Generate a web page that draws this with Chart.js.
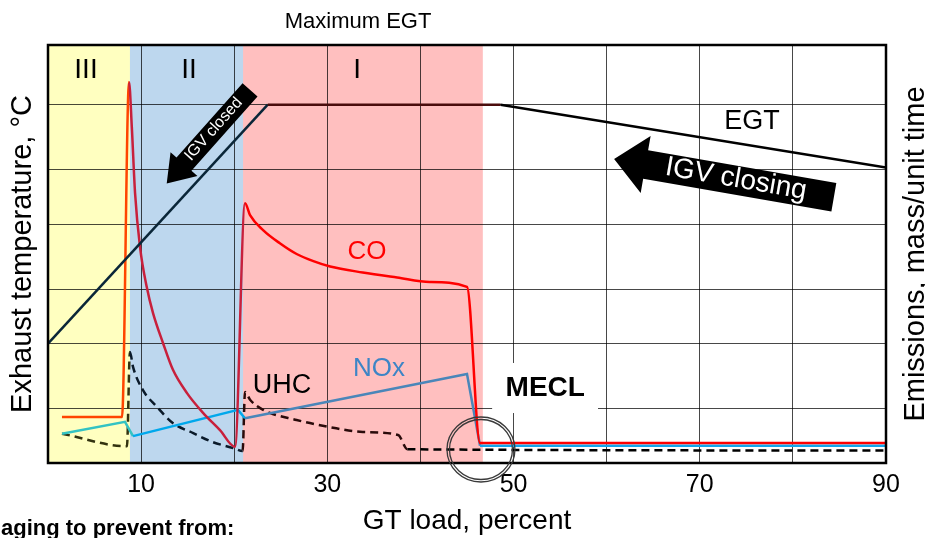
<!DOCTYPE html>
<html>
<head>
<meta charset="utf-8">
<script src="https://cdn.jsdelivr.net/npm/chart.js@4"></script>
<style>
  html, body { margin: 0; padding: 0; background: #fff; }
  #wrap { width: 925px; height: 538px; }
</style>
</head>
<body>
<div id="wrap"><canvas id="myChart"></canvas></div>
<script>
const FONT = '"Liberation Sans", Arial, sans-serif'

// axis ticks / grid
const loadTicks = [10, 30, 50, 70, 90]
const tempGrid = [0, 0.92, 2, 2.9, 4, 4.92, 6, 7]

// operating zones (GT load, percent)
const zoneNames = ['III', 'II', 'I']
const zoneFrom = [0, 8.8, 20.95]
const zoneTo = [8.8, 20.95, 46.7]

// exhaust gas temperature
const egtLoad = [0, 23.6, 48.6, 90]
const egtTemp = [2.0, 6.0, 6.0, 4.95]

// CO
const coLoad = [1.5, 7.95, 8.7, 9.0, 9.35, 9.88, 10.6, 11.28, 12.35, 13.42, 14.93, 16.65, 18.47, 20.08,
                21.16, 21.7, 23.1, 24.9, 26.7, 28.5, 30.3, 33.8, 37.5, 41.0, 45.0, 46.4, 90]
const coValue = [0.77, 0.77, 6.38, 5.63, 4.52, 3.62, 2.95, 2.51, 2.01, 1.56, 1.17, 0.84, 0.55, 0.27,
                 4.35, 4.15, 3.90, 3.68, 3.50, 3.38, 3.29, 3.19, 3.105, 3.03, 2.95, 0.335, 0.335]

// NOx
const noxLoad = [1.5, 8.27, 9.13, 20.4, 21.16, 45.0, 46.4, 90]
const noxValue = [0.49, 0.69, 0.45, 0.89, 0.75, 1.49, 0.29, 0.29]

// UHC
const uhcLoad = [1.5, 8.48, 8.8, 9.13, 10.2, 11.7, 13.4, 15.6, 17.7, 19.9, 20.9,
                 21.16, 21.7, 23.1, 26.7, 30.3, 33.8, 37.6, 38.6, 90]
const uhcValue = [0.49, 0.28, 1.86, 1.61, 1.22, 0.94, 0.67, 0.50, 0.35, 0.25, 0.20,
                  1.19, 1.06, 0.89, 0.72, 0.60, 0.52, 0.47, 0.23, 0.21]

const pts = (xs, ys) => xs.map((x, i) => ({x, y: ys[i]}))

function zoneOf(x) {
    for (let i = 0; i < zoneFrom.length; i++) {
        if (x >= zoneFrom[i] && x < zoneTo[i]) return i
    }
    return 3
}
// colours per zone: III, II, I, outside
const segColor = cols => ctx => cols[zoneOf((ctx.p0.parsed.x + ctx.p1.parsed.x) / 2)]

function arrow(ctx, x1, y1, x2, y2, bodyHalf, headHalf, headLen, text, size) {
    const ang = Math.atan2(y2 - y1, x2 - x1)
    const len = Math.hypot(x2 - x1, y2 - y1)
    ctx.save()
    ctx.translate(x1, y1)
    ctx.rotate(ang)
    ctx.fillStyle = '#000'
    ctx.beginPath()
    ctx.moveTo(0, -bodyHalf)
    ctx.lineTo(len - headLen, -bodyHalf)
    ctx.lineTo(len - headLen, -headHalf)
    ctx.lineTo(len, 0)
    ctx.lineTo(len - headLen, headHalf)
    ctx.lineTo(len - headLen, bodyHalf)
    ctx.lineTo(0, bodyHalf)
    ctx.closePath()
    ctx.fill()
    ctx.translate((len - headLen) / 2 + 4, 1)
    if (Math.abs(ang) > Math.PI / 2) ctx.rotate(Math.PI)
    ctx.fillStyle = '#fff'
    ctx.font = size + 'px ' + FONT
    ctx.textAlign = 'center'
    ctx.textBaseline = 'middle'
    ctx.fillText(text, 0, 0)
    ctx.restore()
}

const decor = {
    id: 'decor',
    beforeDatasetsDraw(chart) {
        const {ctx, chartArea: a, scales: {x, y}} = chart
        const fills = ['#ffffc0', '#bdd7ee', '#ffbfbf']
        ctx.save()
        ctx.globalCompositeOperation = 'multiply'
        zoneFrom.forEach((f, i) => {
            const l = x.getPixelForValue(f), r = x.getPixelForValue(zoneTo[i])
            ctx.fillStyle = fills[i]
            ctx.fillRect(l, a.top, r - l, a.bottom - a.top)
        })
        ctx.restore()
        // white box behind MECL
        ctx.fillStyle = '#fff'
        const bx = x.getPixelForValue(47.7), by = y.getPixelForValue(1.675)
        ctx.fillRect(bx, by, x.getPixelForValue(59.07) - bx, y.getPixelForValue(0.837) - by)
    },
    afterDatasetsDraw(chart) {
        const {ctx, chartArea: a, scales: {x, y}} = chart
        const px = v => x.getPixelForValue(v), py = v => y.getPixelForValue(v)
        ctx.save()
        ctx.strokeStyle = '#000'
        ctx.lineWidth = 2.5
        ctx.strokeRect(a.left, a.top, a.right - a.left, a.bottom - a.top)

        ctx.textAlign = 'center'
        ctx.textBaseline = 'middle'
        ctx.fillStyle = '#000'
        ctx.font = '28px ' + FONT
        const zoneLabelX = [4.08, 15.14, 33.2]
        zoneNames.forEach((n, i) => ctx.fillText(n, px(zoneLabelX[i]), py(6.57)))

        ctx.font = '27px ' + FONT
        ctx.fillText('EGT', px(75.6), py(5.71))
        ctx.fillText('UHC', px(25.13), py(1.30))
        ctx.fillStyle = '#ff0000'
        ctx.font = '26px ' + FONT
        ctx.fillText('CO', px(34.26), py(3.53))
        ctx.fillStyle = '#3d85c6'
        ctx.fillText('NOx', px(35.55), py(1.57))
        ctx.fillStyle = '#000'
        ctx.font = 'bold 28px ' + FONT
        ctx.fillText('MECL', px(53.4), py(1.25))

        ctx.font = '22px ' + FONT
        ctx.fillText('Maximum EGT', px(33.3), 22)

        // MECL circle
        ctx.strokeStyle = '#3a3a3a'
        ctx.lineWidth = 1.3
        const cx = px(46.5), cy = py(0.226)
        ctx.beginPath(); ctx.ellipse(cx, cy, 34, 32.5, 0, 0, Math.PI * 2); ctx.stroke()
        ctx.beginPath(); ctx.ellipse(cx, cy, 31.5, 30, 0, 0, Math.PI * 2); ctx.stroke()

        arrow(ctx, px(21.7), py(6.25), px(12.75), py(4.68), 10, 18, 26, 'IGV closed', 16)
        arrow(ctx, px(84.4), py(4.45), px(60.8), py(5.09), 14.4, 29, 32, 'IGV closing', 28)
        ctx.restore()
    },
    afterDraw(chart) {
        const {ctx, chartArea: a} = chart
        ctx.save()
        ctx.fillStyle = '#000'
        ctx.font = '29px ' + FONT
        ctx.textAlign = 'center'
        ctx.textBaseline = 'alphabetic'
        ctx.translate(924, (a.top + a.bottom) / 2)
        ctx.rotate(-Math.PI / 2)
        ctx.fillText('Emissions, mass/unit time', 0, 0)
        ctx.restore()
        ctx.save()
        ctx.fillStyle = '#000'
        ctx.font = 'bold 22px ' + FONT
        ctx.textBaseline = 'alphabetic'
        ctx.fillText('aging to prevent from:', 1, 535)
        ctx.restore()
    }
}

const gridStyle = {color: 'rgba(0,0,0,0.72)', lineWidth: 1, drawTicks: false}

const config = {
    type: 'line',
    data: {
        datasets: [
            {
                data: pts(egtLoad, egtTemp),
                borderWidth: 2.5,
                segment: {borderColor: segColor(['#3a3a12', '#0a2638', '#4a0c0c', '#000'])}
            },
            {
                data: pts(coLoad, coValue),
                borderWidth: 2.5,
                cubicInterpolationMode: 'monotone',
                segment: {borderColor: segColor(['#ff4500', '#c8203c', '#ff0000', '#ff0000'])}
            },
            {
                data: pts(noxLoad, noxValue),
                borderWidth: 2.5,
                segment: {borderColor: segColor(['#33c3c3', '#00a8ec', '#4a86b9', '#12a6ec'])}
            },
            {
                data: pts(uhcLoad, uhcValue),
                borderWidth: 2.5,
                borderDash: [8, 5],
                cubicInterpolationMode: 'monotone',
                segment: {borderColor: segColor(['#333310', '#0a1a2a', '#2a0a0a', '#000'])}
            }
        ]
    },
    options: {
        responsive: true,
        maintainAspectRatio: false,
        animation: false,
        layout: {padding: {top: 45, right: 39}},
        plugins: {legend: {display: false}, tooltip: {enabled: false}},
        elements: {point: {radius: 0}},
        scales: {
            x: {
                type: 'linear',
                min: 0,
                max: 90,
                afterFit: s => { s.height = 75 },
                ticks: {
                    stepSize: 10,
                    autoSkip: false,
                    maxRotation: 0,
                    padding: 7,
                    color: '#000',
                    font: {family: FONT, size: 25},
                    callback: v => loadTicks.includes(v) ? v : ''
                },
                grid: gridStyle,
                border: {display: false},
                title: {
                    display: true,
                    text: 'GT load, percent',
                    color: '#000',
                    font: {family: FONT, size: 28},
                    padding: {top: 0, bottom: 0}
                }
            },
            y: {
                min: 0,
                max: 7,
                afterFit: s => { s.width = 48 },
                afterBuildTicks: s => { s.ticks = tempGrid.map(v => ({value: v})) },
                ticks: {display: false},
                grid: gridStyle,
                border: {display: false},
                title: {
                    display: true,
                    text: 'Exhaust temperature, °C',
                    color: '#000',
                    font: {family: FONT, size: 29},
                    padding: {top: 6, bottom: 0}
                }
            }
        }
    },
    plugins: [decor]
}

const myChart = new Chart(document.getElementById('myChart'), config)
</script>
</body>
</html>
